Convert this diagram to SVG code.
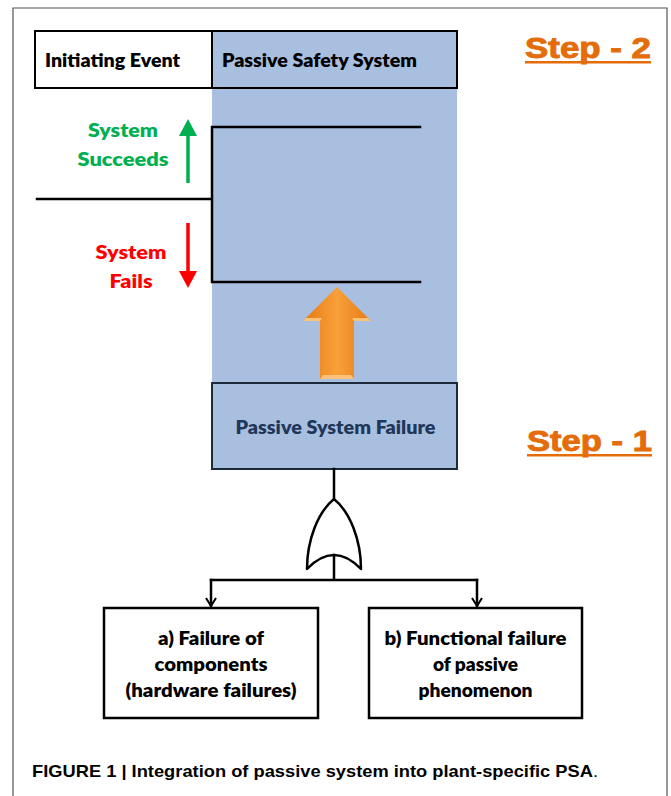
<svg xmlns="http://www.w3.org/2000/svg" width="671" height="796" viewBox="0 0 671 796">
<defs>
<style>
.lbl{font-family:Lato,"Open Sans","Liberation Sans",sans-serif;font-weight:800;font-size:19.5px;fill:#000;text-anchor:middle}
.ln{fill:none;stroke:#000;stroke-width:2.5;stroke-linecap:square}
.box{fill:#fff;stroke:#000;stroke-width:2.5}
.blue{fill:#a9bfdf}
.step{font-family:"Liberation Sans",Arial,sans-serif;font-weight:bold;font-size:29px;fill:#e46c0a;stroke:#e46c0a;stroke-width:0.9}
</style>
<marker id="open" viewBox="0 0 10 12" refX="9" refY="6" markerWidth="10" markerHeight="12" markerUnits="userSpaceOnUse" orient="auto">
<path d="M1,1 L9,6 L1,11" fill="none" stroke="#000" stroke-width="2"/>
</marker>
<linearGradient id="og" x1="0" y1="0" x2="1" y2="0">
<stop offset="0" stop-color="#e57a12"/>
<stop offset="0.5" stop-color="#f9a03a"/>
<stop offset="1" stop-color="#e57a12"/>
</linearGradient>
</defs>
<rect x="0" y="0" width="671" height="796" fill="#fff"/>
<path d="M13,797 V8 H667 V797" fill="none" stroke="#555" stroke-width="1.2"/>

<g id="blue-column"><rect class="blue" x="212" y="88" width="245" height="295"/></g>

<g id="initiating-event">
<rect x="35" y="31" width="177" height="57" fill="#fff" stroke="#000" stroke-width="2"/>
<text class="lbl" x="112.5" y="67" textLength="135" lengthAdjust="spacingAndGlyphs">Initiating Event</text>
</g>
<g id="passive-safety-system">
<rect class="blue" x="212" y="31" width="245" height="57" stroke="#000" stroke-width="2"/>
<text class="lbl" x="319.5" y="67" textLength="195" lengthAdjust="spacingAndGlyphs">Passive Safety System</text>
</g>

<g id="step-2">
<text class="step" x="525" y="58" textLength="126" lengthAdjust="spacingAndGlyphs">Step - 2</text>
<rect x="525" y="61" width="126" height="2.5" fill="#e46c0a"/>
</g>
<g id="step-1">
<text class="step" x="527" y="451" textLength="125" lengthAdjust="spacingAndGlyphs">Step - 1</text>
<rect x="527" y="454" width="125" height="2.5" fill="#e46c0a"/>
</g>

<g id="event-tree">
<path class="ln" d="M37,199 H212 M212,127 V282 M212,127 H420 M212,282 H420"/>
</g>

<g id="system-succeeds">
<text class="lbl" x="123" y="137" font-size="21" style="fill:#00b050" textLength="70" lengthAdjust="spacingAndGlyphs">System</text>
<text class="lbl" x="123" y="166" font-size="21" style="fill:#00b050" textLength="91" lengthAdjust="spacingAndGlyphs">Succeeds</text>
<path d="M188,183 V133" stroke="#00b050" stroke-width="3.5"/>
<polygon points="179,136 188,119 197,136" fill="#00b050"/>
</g>
<g id="system-fails">
<text class="lbl" x="131" y="259" font-size="21" style="fill:#ff0000" textLength="71" lengthAdjust="spacingAndGlyphs">System</text>
<text class="lbl" x="131" y="288" font-size="21" style="fill:#ff0000" textLength="43" lengthAdjust="spacingAndGlyphs">Fails</text>
<path d="M188,223 V274" stroke="#ff0000" stroke-width="3.5"/>
<polygon points="179,271 188,288 197,271" fill="#ff0000"/>
</g>

<g id="orange-arrow">
<polygon points="337,287 371,321 354,321 354,379 320,379 320,321 303,321" fill="url(#og)"/>
<polygon points="303,321 320,321 322,318 306,318" fill="#fcc27a"/>
<polygon points="354,321 371,321 368,318 352,318" fill="#fcc27a"/>
<polygon points="320,379 354,379 351,375 323,375" fill="#fcc27a"/>
</g>

<g id="passive-system-failure">
<rect class="blue" x="212" y="383" width="245" height="86" stroke="#1c2a3a" stroke-width="2"/>
<text class="lbl" x="335.5" y="434" style="fill:#1f3759" textLength="200" lengthAdjust="spacingAndGlyphs">Passive System Failure</text>
</g>

<g id="or-gate">
<path d="M334,499 C318,512 307,540 307,569 Q334,541 361,569 C361,540 350,512 334,499 Z" fill="#fff" stroke="#000" stroke-width="2.5" stroke-linejoin="round"/>
</g>

<g id="connectors">
<path class="ln" d="M334,469 V499"/>
<path class="ln" d="M334,555 V580 M211,580 H477"/>
<path class="ln" d="M211,580 V606" marker-end="url(#open)"/>
<path class="ln" d="M477,580 V606" marker-end="url(#open)"/>
</g>

<g id="failure-of-components">
<rect class="box" x="104" y="608" width="214" height="110"/>
<text class="lbl" x="211" y="645" textLength="106" lengthAdjust="spacingAndGlyphs">a) Failure of</text>
<text class="lbl" x="211" y="671" textLength="113" lengthAdjust="spacingAndGlyphs">components</text>
<text class="lbl" x="211" y="697" textLength="171" lengthAdjust="spacingAndGlyphs">(hardware failures)</text>
</g>
<g id="functional-failure">
<rect class="box" x="369" y="608" width="213" height="110"/>
<text class="lbl" x="475.5" y="645" textLength="182" lengthAdjust="spacingAndGlyphs">b) Functional failure</text>
<text class="lbl" x="475.5" y="671" textLength="85" lengthAdjust="spacingAndGlyphs">of passive</text>
<text class="lbl" x="475.5" y="697" textLength="114" lengthAdjust="spacingAndGlyphs">phenomenon</text>
</g>

<g id="caption">
<text x="32" y="777" font-family="'Liberation Sans Narrow','Liberation Sans',Arial,sans-serif" font-size="17" textLength="566" lengthAdjust="spacingAndGlyphs"><tspan font-weight="bold">FIGURE 1 | Integration of passive system into plant-specific PSA</tspan><tspan>.</tspan></text>
</g>
</svg>
